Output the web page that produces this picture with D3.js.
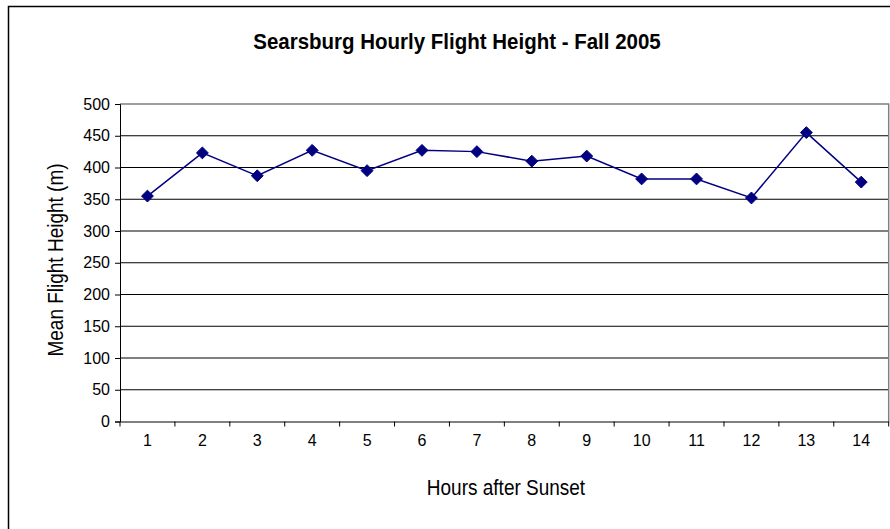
<!DOCTYPE html>
<html>
<head>
<meta charset="utf-8">
<script src="https://cdn.jsdelivr.net/npm/d3@7"></script>
<style>
  body { margin: 0; background: #fff; }
  text { font-family: "Liberation Sans", Arial, sans-serif; fill: #000; }
</style>
</head>
<body>
<svg id="chart" width="890" height="529"></svg>
<script>
const hours = ["1", "2", "3", "4", "5", "6", "7", "8", "9", "10", "11", "12", "13", "14"];
const flightHeight = [355, 423, 387, 427, 395, 427, 425, 410, 418, 382, 382, 352, 455, 377];
const yTicks = [0, 50, 100, 150, 200, 250, 300, 350, 400, 450, 500];

let svg = d3.select("#chart");

let margin = {top: 104, right: 1.3, bottom: 107.5, left: 120};
let width = 890 - margin.left - margin.right;
let height = 529 - margin.top - margin.bottom;

// outer chart frame
svg.append("rect")
    .attr("x", 8.5)
    .attr("y", 6.5)
    .attr("width", 900)
    .attr("height", 600)
    .attr("fill", "none")
    .attr("stroke", "#000")
    .attr("stroke-width", 1.5);

// the original text is a bit taller than wide, so stretch it vertically
svg.append("text")
    .attr("transform", "translate(457, 49) scale(1, 1.12)")
    .attr("text-anchor", "middle")
    .style("font-size", "20.5px")
    .style("font-weight", "bold")
    .text("Searsburg Hourly Flight Height - Fall 2005");

let g = svg.append("g")
    .attr("transform", `translate(${margin.left}, ${margin.top})`);

let x = d3.scaleBand()
    .domain(hours)
    .range([0, width])
    .padding(0);

let y = d3.scaleLinear()
    .domain([0, 500])
    .range([height, 0]);

// gridlines
g.selectAll(".grid")
    .data(yTicks.filter(d => d > 0 && d < 500))
    .join("line")
    .attr("class", "grid")
    .attr("x1", 0)
    .attr("x2", width)
    .attr("y1", d => y(d))
    .attr("y2", d => y(d))
    .attr("stroke", "#000")
    .attr("stroke-width", 1);

// plot border (top + right)
g.append("path")
    .attr("d", `M0,${y(500)}H${width}V${height}`)
    .attr("fill", "none")
    .attr("stroke", "#808080")
    .attr("stroke-width", 1.5);

// y axis
let yAxis = d3.axisLeft(y)
    .tickValues(yTicks)
    .tickSize(5)
    .tickPadding(5);

g.append("g")
    .attr("class", "yaxis")
    .call(yAxis)
    .call(a => a.select(".domain").attr("stroke", "#000"))
    .call(a => a.selectAll("text")
        .style("font-size", "16px")
        .style("font-family", "'Liberation Sans', Arial, sans-serif"));

// x axis: labels at band centres, ticks at band edges
let xAxis = d3.axisBottom(x)
    .tickSize(0)
    .tickPadding(13);

g.append("g")
    .attr("class", "xaxis")
    .attr("transform", `translate(0,${height})`)
    .call(xAxis)
    .call(a => a.select(".domain").attr("stroke", "#000"))
    .call(a => a.selectAll("text")
        .style("font-size", "16px")
        .style("font-family", "'Liberation Sans', Arial, sans-serif"));

let edges = hours.map(h => x(h)).concat([width]);
g.selectAll(".xtick")
    .data(edges)
    .join("line")
    .attr("class", "xtick")
    .attr("x1", d => d)
    .attr("x2", d => d)
    .attr("y1", height)
    .attr("y2", height + 5)
    .attr("stroke", "#000");

// axis titles
svg.append("text")
    .attr("transform", "translate(506, 495) scale(1, 1.12)")
    .attr("text-anchor", "middle")
    .style("font-size", "19px")
    .text("Hours after Sunset");

svg.append("text")
    .attr("transform", "translate(63, 260) rotate(-90) scale(1, 1.12)")
    .attr("text-anchor", "middle")
    .style("font-size", "19px")
    .text("Mean Flight Height (m)");

// series
let pts = hours.map((h, i) => ({hour: h, value: flightHeight[i]}));

let line = d3.line()
    .x(d => x(d.hour) + x.bandwidth() / 2)
    .y(d => y(d.value));

g.append("path")
    .datum(pts)
    .attr("d", line)
    .attr("fill", "none")
    .attr("stroke", "#000080")
    .attr("stroke-width", 1.5);

let diamond = d3.symbol().type(d3.symbolDiamond2).size(90);

g.selectAll(".marker")
    .data(pts)
    .join("path")
    .attr("class", "marker")
    .attr("d", diamond)
    .attr("transform", d => `translate(${x(d.hour) + x.bandwidth() / 2},${y(d.value)})`)
    .attr("fill", "#000080")
    .attr("stroke", "#000080");
</script>
</body>
</html>
